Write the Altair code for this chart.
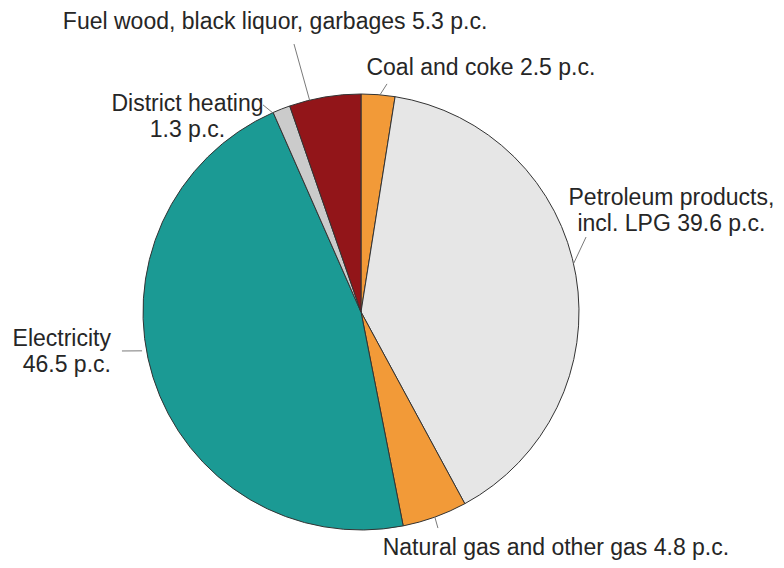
import altair as alt
import pandas as pd
import numpy as np

# ---- data ----
categories = ["Coal and coke", "Petroleum products, incl. LPG", "Natural gas and other gas",
              "Electricity", "District heating", "Fuel wood, black liquor, garbages"]
shares = [2.5, 39.6, 4.8, 46.5, 1.3, 5.3]
label_texts = [["Coal and coke 2.5 p.c."],
               ["Petroleum products,", "incl. LPG 39.6 p.c."],
               ["Natural gas and other gas 4.8 p.c."],
               ["Electricity", "46.5 p.c."],
               ["District heating", "1.3 p.c."],
               ["Fuel wood, black liquor, garbages 5.3 p.c."]]
colors = ["#f29a38", "#e6e6e6", "#f29a38", "#1b9a94", "#cbcbcb", "#921519"]

# ---- layout (unit = pie radius, centre at 0,0) ----
label_x = [0.550, 1.424, 0.894, -1.147, -0.796, -0.394]
label_y = [1.119, 0.523, -1.083, -0.126, 0.952, 1.330]
label_align = ["center", "center", "center", "right", "center", "center"]
lead_start_off = [0.5, -3.1, 0.0, 7.4, -2.5, -4.1]
lead_start_r = [1.0, 1.0, 1.0, 1.02, 1.0, 1.0]
lead_end_off = [2.0, -8.7, 0.2, 8.2, -3.9, -4.5]
lead_end_r = [1.053, 1.088, 1.052, 1.111, 1.051, 1.267]

W, H = 768, 552
R = 218
CX, CY = 353, 304  # centre of pie in view pixels
xdom = [-CX / R, (W - CX) / R]
ydom = [(CY - H) / R, CY / R]
xs = alt.Scale(domain=xdom, range=[0, W], nice=False, zero=False)
ys = alt.Scale(domain=ydom, range=[H, 0], nice=False, zero=False)

df = pd.DataFrame({"cat": categories, "share": shares, "order": range(len(shares)),
                   "cx": 0.0, "cy": 0.0})
cum = np.cumsum(shares)
mid_deg = (cum - np.array(shares) / 2) / cum[-1] * 360.0

sa = np.radians(mid_deg + np.array(lead_start_off))
ea = np.radians(mid_deg + np.array(lead_end_off))
lead = pd.DataFrame({
    "x": np.array(lead_start_r) * np.sin(sa),
    "y": np.array(lead_start_r) * np.cos(sa),
    "x2": np.array(lead_end_r) * np.sin(ea),
    "y2": np.array(lead_end_r) * np.cos(ea),
})
labs = pd.DataFrame({"x": label_x, "y": label_y, "text": label_texts, "align": label_align})

pie = alt.Chart(df).mark_arc(radius=R, stroke="#333333", strokeWidth=1).encode(
    theta=alt.Theta("share:Q", stack=True),
    order=alt.Order("order:Q"),
    color=alt.Color("cat:N", scale=alt.Scale(domain=categories, range=colors), legend=None),
    x=alt.X("cx:Q", scale=xs, axis=None),
    y=alt.Y("cy:Q", scale=ys, axis=None),
)

leaders = alt.Chart(lead).mark_rule(color="#7a7a7a", strokeWidth=1).encode(
    x=alt.X("x:Q", scale=xs, axis=None),
    y=alt.Y("y:Q", scale=ys, axis=None),
    x2="x2:Q", y2="y2:Q",
)

def text_layer(align):
    sub = labs[labs["align"] == align]
    return alt.Chart(sub).mark_text(
        align=align, baseline="middle", font="Liberation Sans", fontSize=23,
        lineHeight=26, color="#262626"
    ).encode(
        x=alt.X("x:Q", scale=xs, axis=None),
        y=alt.Y("y:Q", scale=ys, axis=None),
        text="text",
    )

chart = alt.layer(pie, leaders, text_layer("center"), text_layer("right")).properties(
    width=W, height=H, padding=0, autosize="none", background="white"
).configure_view(stroke=None)

chart.save("out.html", embed_options={"renderer": "svg", "actions": False})
